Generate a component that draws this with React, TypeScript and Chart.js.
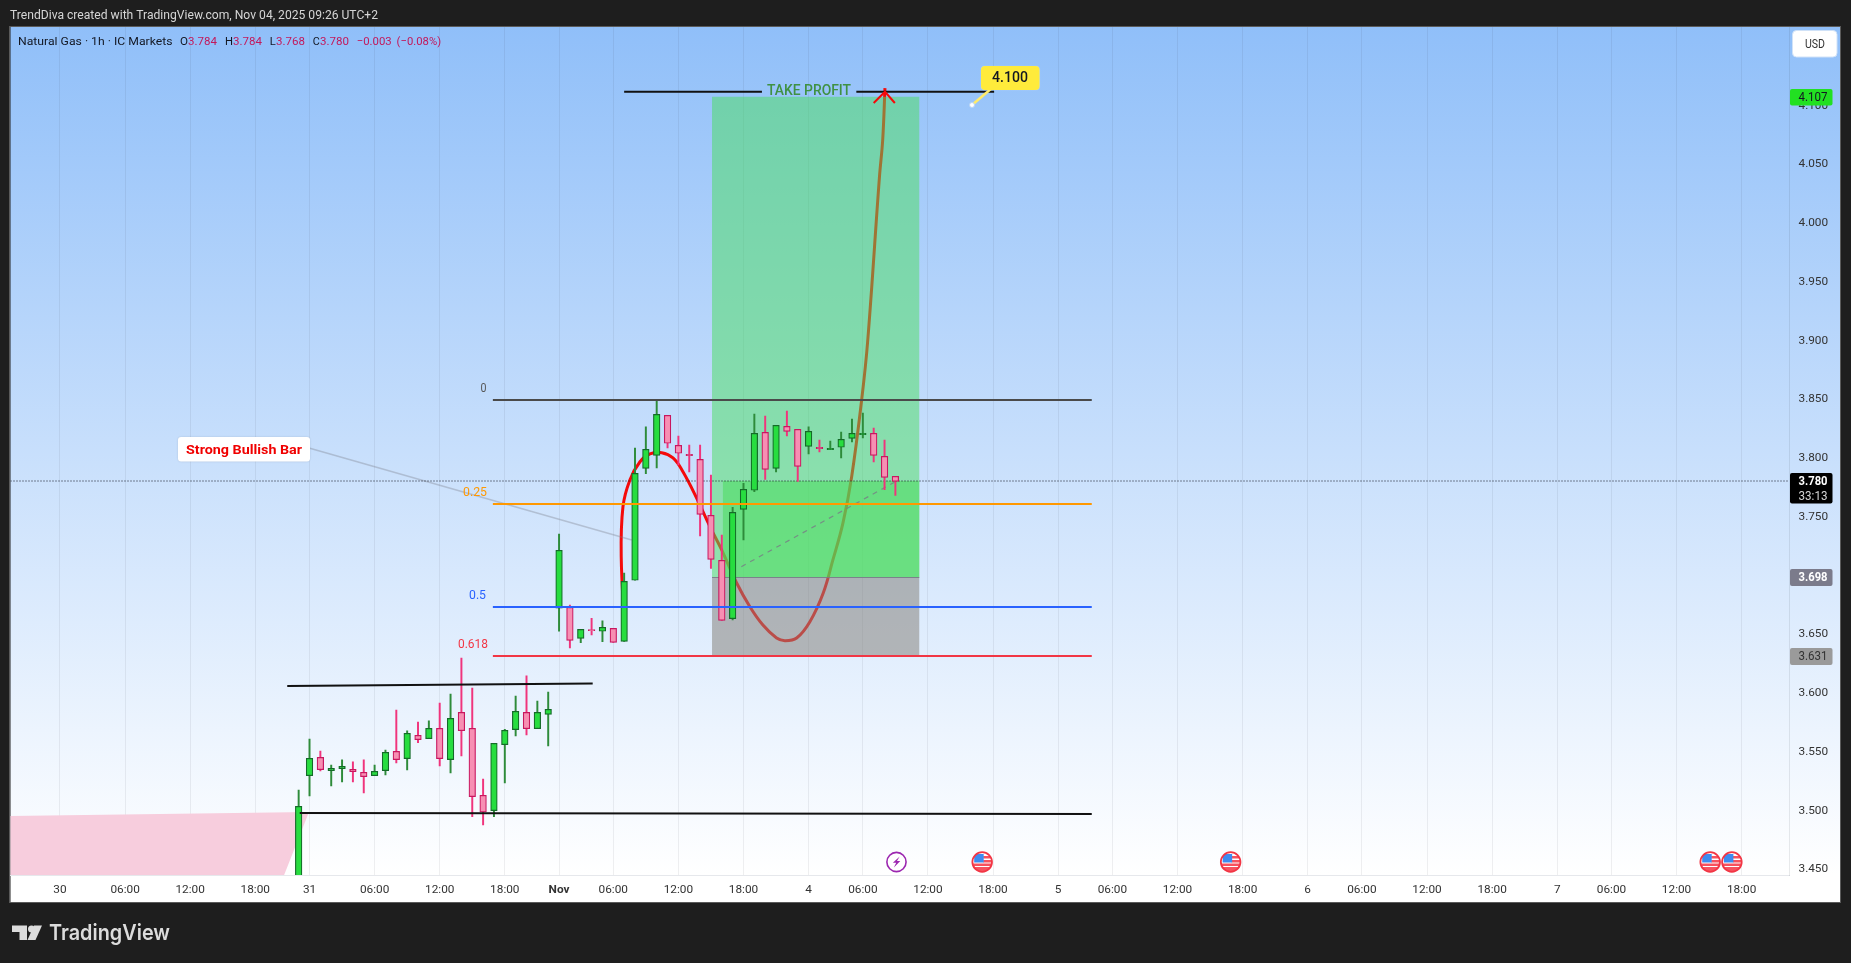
import React, { useEffect, useRef } from "react";
import { Chart, registerables } from "chart.js";

Chart.register(...registerables);

const W = 1851;
const H = 963;

// ---- candle data (bar index runs over the session-adjusted time axis) ----
const firstBar = 22;
const opens = [3.40,3.5292,3.5448,3.5335,3.5352,3.5346,3.5321,3.5292,3.5335,3.5499,3.5437,3.5636,3.5607,3.5695,3.5429,3.5831,3.5695,3.5125,3.4995,3.5556,3.5684,3.5831,3.5692,3.5814,
  3.6717,3.6725,3.6461,3.6532,3.6521,3.6546,3.6435,3.6955,3.7908,3.8018,3.8359,3.8104,3.8027,3.7984,3.7508,3.7125,3.6628,3.7559,3.7721,3.8214,3.7908,3.8265,3.8240,3.8095,3.8086,3.8067,3.8087,3.8163,3.8194,3.8206,3.8010,3.7840];
const highs = [3.5170,3.5604,3.5502,3.5383,3.5426,3.5409,3.5426,3.5383,3.5511,3.5851,3.5673,3.5749,3.5758,3.5911,3.5987,3.6294,3.6038,3.5264,3.5568,3.5687,3.5970,3.6141,3.5928,3.6004,
  3.7349,3.6745,3.6537,3.6631,3.6609,3.6546,3.7017,3.8081,3.8260,3.8481,3.8359,3.8183,3.8106,3.8106,3.7851,3.7340,3.7576,3.7780,3.8370,3.8353,3.8274,3.8396,3.8240,3.8260,3.8149,3.8140,3.8217,3.8328,3.8379,3.8251,3.8149,3.7840];
const lows = [3.40,3.5119,3.5332,3.5204,3.5238,3.5238,3.5145,3.5292,3.5298,3.5400,3.5341,3.5573,3.5607,3.5375,3.5315,3.5460,3.4943,3.4873,3.4943,3.5230,3.5630,3.5638,3.5692,3.5545,
  3.6523,3.6379,3.6424,3.6489,3.6433,3.6427,3.6435,3.6955,3.7863,3.7911,3.8081,3.7936,3.7877,3.7332,3.7057,3.6614,3.6617,3.7298,3.7709,3.7814,3.7877,3.8183,3.7797,3.8030,3.8047,3.8067,3.7996,3.8132,3.8166,3.7962,3.7726,3.7678];
const closes = [3.5031,3.5440,3.5343,3.5355,3.5372,3.5326,3.5284,3.5329,3.5491,3.5429,3.5653,3.5599,3.5695,3.5437,3.5780,3.5675,3.5114,3.4983,3.5568,3.5678,3.5840,3.5692,3.5831,3.5857,
  3.7210,3.6444,3.6537,3.6526,3.6555,3.6427,3.6946,3.7865,3.8070,3.8367,3.8121,3.8036,3.8016,3.7516,3.7133,3.6614,3.7533,3.7729,3.8206,3.7899,3.8274,3.8223,3.7925,3.8223,3.8075,3.8078,3.8155,3.8206,3.8206,3.8018,3.7831,3.7797];

// ---- axes ----
const timeTickBars = [0,6,12,18,23,29,35,41,46,51,57,63,69,74,80,86,92,97,103,109,115,120,126,132,138,143,149,155];
const timeTickLabels = ["30","06:00","12:00","18:00","31","06:00","12:00","18:00","Nov","06:00","12:00","18:00","4","06:00","12:00","18:00","5","06:00","12:00","18:00","6","06:00","12:00","18:00","7","06:00","12:00","18:00"];
const priceTicks = [3.45,3.5,3.55,3.6,3.65,3.7,3.75,3.8,3.85,3.9,3.95,4.0,4.05,4.1];

// ---- drawings ----
const curveBars = [52.07,51.73,51.89,52.53,53.46,54.38,55.46,56.5,57.42,58.68,59.91,60.99,62.37,63.59,64.79,66.05,66.82,67.9,69.12,70.35,71.24,72.17,72.97,73.89,74.44,75.53,75.83,76.04];
const curvePrices = [3.6506,3.7156,3.7581,3.7809,3.7964,3.803,3.8041,3.7996,3.7879,3.7655,3.7411,3.7213,3.6932,3.673,3.6574,3.6464,3.6441,3.6464,3.6603,3.6847,3.7128,3.7443,3.7837,3.8489,3.8983,4.0387,4.0702,4.1144];
const arrowBars = [75.0,76.04,76.95];
const arrowPrices = [4.1017,4.1113,4.1017];
const fibBars = [39.9,95.1];
const fibLevels = [3.849,3.7604,3.6728,3.631];
const fibColors = ["#4a4a4a","#ff9800","#2962ff","#f23645"];
const fibNames = ["0","0.25","0.5","0.618"];
const channelTopBars = [20.95,49.1];
const channelTopPrices = [3.6056,3.6076];
const channelBottomBars = [22.1,95.1];
const channelBottomPrices = [3.4974,3.4966];
const tpLeftBars = [52,64.7];
const tpRightBars = [73.4,86.1];
const tpPrice = 4.1113;
const lastPrice = 3.78;
const entryPrice = 3.698;
const stopPrice = 3.631;
const targetPrice = 4.107;
const positionBars = [60.1,79.2];
const filledStartBar = 61.1;
const tradeLineBars = [62.8,77];
const tradeLinePrices = [3.7071,3.7794];
const calloutBars = [22.95,52.7];
const calloutPrices = [3.8081,3.7298];
const pinkBars = [-5,22.95,20.46,-5];
const pinkPrices = [3.4949,3.4983,3.44,3.44];
const flagBars = [85.0,107.9,152.1,154.1];
const lightningBar = 77.1;

// ---- frame geometry ----
const L = 10.5, T = 27, R = 1789.5, B = 875, FR = 1840, FB = 902;
const xMin = -4.56, xMax = 159.41;
const yMin = 3.8 - (B - 457.5) / 1175, yMax = 3.8 + (457.5 - T) / 1175;

const FONT = "Roboto, 'Noto Sans', sans-serif";

function fitText(ctx: CanvasRenderingContext2D, s: string, x: number, y: number, w: number, font: string, color: string, align: "left" | "center" = "left") {
  ctx.save();
  ctx.font = font;
  ctx.fillStyle = color;
  ctx.textBaseline = "middle";
  ctx.textAlign = "left";
  const m = ctx.measureText(s).width;
  const sx = w / m;
  ctx.translate(align === "center" ? x - w / 2 : x, y + 0.8);
  ctx.scale(sx, 1);
  ctx.fillText(s, 0, 0);
  ctx.restore();
}

function roundRect(ctx: CanvasRenderingContext2D, x: number, y: number, w: number, h: number, r: number) {
  ctx.beginPath();
  ctx.roundRect(x, y, w, h, r);
}

const backdropPlugin = {
  id: "backdrop",
  beforeDraw(chart: any) {
    const ctx = chart.ctx;
    ctx.save();
    ctx.fillStyle = "#1e1e1e";
    ctx.fillRect(0, 0, W, H);
    const g = ctx.createLinearGradient(0, T, 0, B);
    g.addColorStop(0, "rgb(144,191,249)");
    g.addColorStop(1, "rgb(255,255,255)");
    ctx.fillStyle = g;
    ctx.fillRect(L, T, FR - L, B - T);
    ctx.fillStyle = "#ffffff";
    ctx.fillRect(L, B, FR - L, FB - B);
    ctx.restore();
  },
  beforeDatasetsDraw(chart: any) {
    const ctx = chart.ctx;
    const { x, y } = chart.scales;
    const a = chart.chartArea;
    ctx.save();
    ctx.beginPath();
    ctx.rect(a.left, a.top, a.width, a.height);
    ctx.clip();
    ctx.beginPath();
    pinkBars.forEach((b, i) => {
      const px = x.getPixelForValue(b), py = y.getPixelForValue(pinkPrices[i]);
      if (i) ctx.lineTo(px, py); else ctx.moveTo(px, py);
    });
    ctx.closePath();
    ctx.fillStyle = "#f7cddd";
    ctx.fill();
    ctx.restore();
  },
  afterDatasetDraw(chart: any, args: any) {
    if (chart.data.datasets[args.index].label !== "curve") return;
    const ctx = chart.ctx;
    const { x, y } = chart.scales;
    const x0 = x.getPixelForValue(positionBars[0]), x1 = x.getPixelForValue(positionBars[1]);
    const xf = x.getPixelForValue(filledStartBar);
    const yT = y.getPixelForValue(targetPrice), yE = y.getPixelForValue(entryPrice);
    const yS = y.getPixelForValue(stopPrice), yL = y.getPixelForValue(lastPrice);
    ctx.save();
    ctx.fillStyle = "rgba(74,221,93,0.5)";
    ctx.fillRect(x0, yT, x1 - x0, yE - yT);
    ctx.fillStyle = "rgba(74,221,93,0.55)";
    ctx.fillRect(xf, yL, x1 - xf, yE - yL);
    ctx.fillStyle = "rgba(136,133,126,0.55)";
    ctx.fillRect(x0, yE, x1 - x0, yS - yE);
    ctx.strokeStyle = "rgba(120,123,134,0.9)";
    ctx.lineWidth = 1;
    ctx.beginPath();
    ctx.moveTo(x0, Math.round(yE) + 0.5);
    ctx.lineTo(x1, Math.round(yE) + 0.5);
    ctx.stroke();
    ctx.restore();
  },
  afterDraw(chart: any) {
    const ctx = chart.ctx;
    const { x, y } = chart.scales;

    // frame
    ctx.save();
    ctx.strokeStyle = "#5a5a5a";
    ctx.lineWidth = 1;
    ctx.strokeRect(9.5, 26.5, FR - 9, FB - 26);
    ctx.restore();

    // header
    fitText(ctx, "TrendDiva created with TradingView.com, Nov 04, 2025 09:26 UTC+2", 10, 15, 368, `12.5px ${FONT}`, "#d6d6d6");

    // legend
    const dark = "#131722", red = "#c2185b", lf = `11.8px ${FONT}`;
    fitText(ctx, "Natural Gas · 1h · IC Markets", 18, 41.5, 154.5, lf, dark);
    const legend: [string, string, number, number][] = [
      ["O", dark, 180, 8], ["3.784", red, 188, 29],
      ["H", dark, 225, 8], ["3.784", red, 233, 29],
      ["L", dark, 269.7, 6], ["3.768", red, 276, 29],
      ["C", dark, 312.8, 7], ["3.780", red, 320, 29],
      ["−0.003", red, 356.7, 35], ["(−0.08%)", red, 396.6, 44.5],
    ];
    legend.forEach(([s, c, px, w]) => fitText(ctx, s, px, 41.5, w, lf, c));

    // fib labels
    const fibLabelX = [480.5, 463, 469, 458];
    const fibLabelW = [6, 24, 17, 30];
    fibNames.forEach((n, i) => {
      const py = y.getPixelForValue(fibLevels[i]) - 11.5;
      fitText(ctx, n, fibLabelX[i], py, fibLabelW[i], `12px ${FONT}`, i === 0 ? "#555" : fibColors[i]);
    });

    // take profit text
    fitText(ctx, "TAKE PROFIT", 809, 91, 84, `500 14px ${FONT}`, "#3f9142", "center");

    // strong bullish bar label
    ctx.save();
    ctx.shadowColor = "rgba(0,0,0,0.15)";
    ctx.shadowBlur = 2;
    ctx.fillStyle = "#ffffff";
    roundRect(ctx, 178, 437, 132, 24.5, 3);
    ctx.fill();
    ctx.restore();
    fitText(ctx, "Strong Bullish Bar", 244, 449.5, 116, `bold 13px ${FONT}`, "#f00000", "center");

    // 4.100 callout
    ctx.save();
    ctx.strokeStyle = "#ffeb6b";
    ctx.lineWidth = 2.5;
    ctx.beginPath();
    ctx.moveTo(972, 105);
    ctx.lineTo(992, 88);
    ctx.stroke();
    ctx.fillStyle = "#ffffff";
    ctx.strokeStyle = "#b8d4f5";
    ctx.lineWidth = 1;
    ctx.beginPath();
    ctx.arc(972, 105, 2.5, 0, Math.PI * 2);
    ctx.fill();
    ctx.stroke();
    ctx.fillStyle = "#ffeb3b";
    ctx.shadowColor = "rgba(255,255,255,0.5)";
    ctx.shadowBlur = 1;
    roundRect(ctx, 981, 66, 58.5, 24, 4);
    ctx.fill();
    ctx.restore();
    fitText(ctx, "4.100", 1010, 77.5, 36, `500 14px ${FONT}`, "#131722", "center");

    // price tags
    const tag = (py0: number, py1: number, fill: string) => {
      ctx.fillStyle = fill;
      roundRect(ctx, 1790, py0, 42.5, py1 - py0, 2);
      ctx.fill();
    };
    tag(89, 105.5, "#22e022");
    fitText(ctx, targetPrice.toFixed(3), 1798.5, 97.5, 29, `12px ${FONT}`, "#131722");
    tag(473, 503.5, "#000000");
    fitText(ctx, lastPrice.toFixed(3), 1798.5, 481.5, 29, `bold 12px ${FONT}`, "#ffffff");
    fitText(ctx, "33:13", 1798.5, 496, 29, `12px ${FONT}`, "#d6d6d6");
    tag(569, 586, "#7b7b8b");
    fitText(ctx, entryPrice.toFixed(3), 1798.5, 577.5, 29, `bold 12px ${FONT}`, "#ffffff");
    tag(648, 665, "#9a9a9a");
    fitText(ctx, stopPrice.toFixed(3), 1798.5, 656.5, 29, `12px ${FONT}`, "#333333");

    // currency button
    ctx.save();
    ctx.fillStyle = "#ffffff";
    ctx.strokeStyle = "#d0e2f8";
    roundRect(ctx, 1792.5, 30.5, 44.5, 26.5, 4);
    ctx.fill();
    ctx.stroke();
    ctx.restore();
    fitText(ctx, "USD", 1815, 44.5, 20, `12px ${FONT}`, "#333333", "center");

    // event icons
    const evY = 862;
    const lx = x.getPixelForValue(lightningBar);
    ctx.save();
    ctx.strokeStyle = "#9c27b0";
    ctx.fillStyle = "#ffffff";
    ctx.lineWidth = 1.6;
    ctx.beginPath();
    ctx.arc(lx, evY, 9.6, 0, Math.PI * 2);
    ctx.fill();
    ctx.stroke();
    ctx.fillStyle = "#9c27b0";
    ctx.beginPath();
    ctx.moveTo(lx + 3.2, evY - 5.5);
    ctx.lineTo(lx - 3.6, evY + 0.8);
    ctx.lineTo(lx - 0.3, evY + 0.8);
    ctx.lineTo(lx - 2.6, evY + 5.5);
    ctx.lineTo(lx + 3.8, evY - 1);
    ctx.lineTo(lx + 0.5, evY - 1);
    ctx.closePath();
    ctx.fill();
    ctx.restore();
    flagBars.forEach((b) => {
      const fx = x.getPixelForValue(b);
      ctx.save();
      ctx.beginPath();
      ctx.arc(fx, evY, 10, 0, Math.PI * 2);
      ctx.fillStyle = "#ffffff";
      ctx.fill();
      ctx.clip();
      ctx.fillStyle = "#f7525f";
      ctx.fillRect(fx - 9, evY + 1.5, 18, 2.5);
      ctx.fillRect(fx - 9, evY + 5, 18, 4.5);
      ctx.fillRect(fx + 1, evY - 6, 9, 2.5);
      ctx.fillRect(fx + 1, evY - 2, 9, 2.5);
      ctx.fillStyle = "#3d8bf0";
      ctx.fillRect(fx - 8, evY - 8, 9.5, 8.5);
      ctx.restore();
      ctx.save();
      ctx.strokeStyle = "#f23645";
      ctx.lineWidth = 1.8;
      ctx.beginPath();
      ctx.arc(fx, evY, 9.8, 0, Math.PI * 2);
      ctx.stroke();
      ctx.restore();
    });

    // brand mark
    ctx.save();
    ctx.fillStyle = "#dcdcdc";
    ctx.beginPath();
    ctx.moveTo(12, 925.5); ctx.lineTo(27, 925.5); ctx.lineTo(27, 940); ctx.lineTo(19.5, 940); ctx.lineTo(19.5, 932); ctx.lineTo(12, 932); ctx.closePath();
    ctx.fill();
    ctx.beginPath();
    ctx.arc(31.5, 929, 3.5, 0, Math.PI * 2);
    ctx.fill();
    ctx.beginPath();
    ctx.moveTo(34, 925.5); ctx.lineTo(42, 925.5); ctx.lineTo(35.5, 940); ctx.lineTo(27.5, 940); ctx.closePath();
    ctx.fill();
    ctx.restore();
    fitText(ctx, "TradingView", 49, 933, 121, `600 22px Inter, ${FONT}`, "#dcdcdc");
  },
};

const pts = (xs: number[], ys: number[]) => xs.map((v, i) => ({ x: v, y: ys[i] }));

const lineDs = (label: string, data: any[], color: string, width: number, order: number, extra: any = {}) => ({
  type: "line",
  label,
  data,
  borderColor: color,
  borderWidth: width,
  pointRadius: 0,
  tension: 0,
  fill: false,
  order,
  ...extra,
});

export default function App() {
  const ref = useRef<HTMLCanvasElement | null>(null);
  useEffect(() => {
    if (!ref.current) return;
    const bars = opens.map((_, i) => firstBar + i);
    const up = closes.map((c, i) => c >= opens[i]);
    const wickColors = up.map((u) => (u ? "#2e8b3a" : "#f0347c"));
    const bodyFill = up.map((u) => (u ? "#27dd3f" : "#f78fb3"));
    const bodyLine = up.map((u) => (u ? "#146b28" : "#c8175f"));
    const chart = new Chart(ref.current, {
      type: "bar",
      data: {
        datasets: [
          lineDs("curve", pts(curveBars, curvePrices), "#f50a0a", 3, 20, { tension: 0.4 }),
          lineDs("trade", pts(tradeLineBars, tradeLinePrices), "rgba(120,123,134,0.8)", 1.2, 15, { borderDash: [5, 5] }),
          lineDs("callout", pts(calloutBars, calloutPrices), "rgba(120,123,134,0.35)", 1.6, 14),
          lineDs("last", [{ x: xMin, y: lastPrice }, { x: xMax, y: lastPrice }], "#131722", 1, 12, { borderDash: [1, 2] }),
          {
            type: "bar", label: "wicks",
            data: bars.map((b, i) => ({ x: b, y: [lows[i], highs[i]] })),
            backgroundColor: wickColors, borderWidth: 0, barThickness: 1.3, grouped: false, order: 10,
          },
          {
            type: "bar", label: "bodies",
            data: bars.map((b, i) => ({ x: b, y: [opens[i], closes[i]] })),
            backgroundColor: bodyFill, borderColor: bodyLine, borderWidth: 1.2, borderSkipped: false,
            barThickness: 6.6, grouped: false, minBarLength: 1, order: 9,
          },
          ...fibLevels.map((lv, i) =>
            lineDs("fib" + i, [{ x: fibBars[0], y: lv }, { x: fibBars[1], y: lv }], fibColors[i], 2, 5)
          ),
          lineDs("channelTop", pts(channelTopBars, channelTopPrices), "#111111", 2, 4),
          lineDs("channelBottom", pts(channelBottomBars, channelBottomPrices), "#111111", 2, 4),
          lineDs("tpLeft", pts(tpLeftBars, [tpPrice, tpPrice]), "#111111", 2, 4),
          lineDs("tpRight", pts(tpRightBars, [tpPrice, tpPrice]), "#111111", 2, 4),
          lineDs("arrow", pts(arrowBars, arrowPrices), "#f50a0a", 2, 3),
        ] as any,
      },
      options: {
        responsive: false,
        animation: false,
        devicePixelRatio: 1,
        layout: { padding: { left: L, top: T, right: W - FR, bottom: H - FB } },
        plugins: { legend: { display: false }, tooltip: { enabled: false } },
        events: [],
        scales: {
          x: {
            type: "linear",
            position: "bottom",
            min: xMin,
            max: xMax,
            offset: false,
            afterBuildTicks: (s: any) => { s.ticks = timeTickBars.map((v) => ({ value: v })); },
            afterFit: (s: any) => { s.height = FB - B; },
            grid: { color: "rgba(42,46,57,0.075)", lineWidth: 1, drawTicks: false, offset: false },
            border: { color: "#e6e8ec", width: 1 },
            ticks: {
              autoSkip: false,
              maxRotation: 0,
              padding: 7.8,
              color: "#333333",
              font: (c: any) => ({ family: FONT, size: 11.8, weight: c.tick && c.tick.value === 46 ? "bold" : "normal" }),
              callback: (v: any) => timeTickLabels[timeTickBars.indexOf(Number(v))] ?? "",
            },
          },
          y: {
            type: "linear",
            position: "right",
            min: yMin,
            max: yMax,
            afterBuildTicks: (s: any) => { s.ticks = priceTicks.map((v) => ({ value: v })); },
            afterFit: (s: any) => { s.width = FR - R; },
            grid: { display: false, drawTicks: false },
            border: { color: "rgba(42,46,57,0.1)", width: 1 },
            ticks: {
              padding: 9,
              labelOffset: 0.8,
              color: "#333333",
              font: { family: FONT, size: 11.8 },
              callback: (v: any) => Number(v).toFixed(3),
            },
          },
        },
      } as any,
      plugins: [backdropPlugin as any],
    });
    return () => chart.destroy();
  }, []);
  return <canvas ref={ref} width={W} height={H} style={{ position: "fixed", left: 0, top: 0, width: W, height: H, display: "block" }} />;
}
